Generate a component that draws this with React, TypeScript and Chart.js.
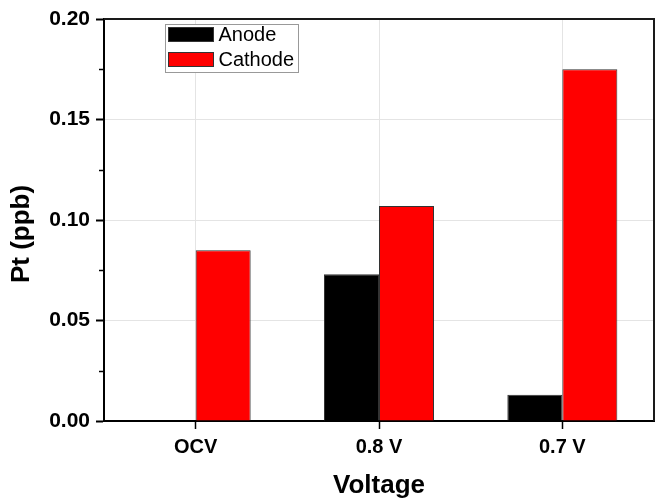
import React, { useEffect, useRef } from "react";
import { Chart, registerables } from "chart.js";

Chart.register(...registerables);

const categories = ["OCV", "0.8 V", "0.7 V"];
const anodeValues = [0, 0.073, 0.013];
const cathodeValues = [0.085, 0.107, 0.175];
const minorTickValues = [0.025, 0.075, 0.125, 0.175];
const seriesLabels = ["Anode", "Cathode"];
const seriesColors = ["#000000", "#ff0000"];
const xTitle = "Voltage";
const yTitle = "Pt (ppb)";

const FONT = "Arial, 'Liberation Sans', Helvetica, sans-serif";

const framePlugin = {
  id: "frameAndLegend",
  afterDraw(chart: any) {
    const { ctx, chartArea } = chart;
    const y = chart.scales.y;
    ctx.save();
    // minor ticks
    ctx.strokeStyle = "#000";
    ctx.lineWidth = 1.5;
    minorTickValues.forEach((v) => {
      const py = Math.round(y.getPixelForValue(v)) + 0.5;
      ctx.beginPath();
      ctx.moveTo(chartArea.left - 5, py);
      ctx.lineTo(chartArea.left, py);
      ctx.stroke();
    });
    // top and right frame
    ctx.lineWidth = 2;
    ctx.strokeStyle = "#1a1a1a";
    ctx.beginPath();
    ctx.moveTo(chartArea.left, chartArea.top);
    ctx.lineTo(chartArea.right, chartArea.top);
    ctx.lineTo(chartArea.right, chartArea.bottom);
    ctx.stroke();
    // y axis title
    ctx.save();
    ctx.translate(22, (chartArea.top + chartArea.bottom) / 2 + 14);
    ctx.rotate(-Math.PI / 2);
    ctx.fillStyle = "#000";
    ctx.font = `bold 26px ${FONT}`;
    ctx.textAlign = "center";
    ctx.textBaseline = "middle";
    ctx.fillText(yTitle, 0, 0);
    ctx.restore();
    // legend
    const lx = chartArea.left + 61.5;
    const ly = chartArea.top + 5.5;
    ctx.lineWidth = 1;
    ctx.strokeStyle = "#999";
    ctx.fillStyle = "#fff";
    ctx.fillRect(lx, ly, 133, 48);
    ctx.strokeRect(lx, ly, 133, 48);
    chart.data.datasets.forEach((ds: any, i: number) => {
      const sy = ly + 3 + i * 25;
      ctx.fillStyle = ds.backgroundColor;
      ctx.fillRect(lx + 3, sy, 45, 14);
      ctx.strokeStyle = "#333";
      ctx.strokeRect(lx + 3, sy, 45, 14);
      ctx.fillStyle = "#000";
      ctx.font = `20px ${FONT}`;
      ctx.textBaseline = "middle";
      ctx.textAlign = "left";
      ctx.fillText(ds.label, lx + 53, sy + 8);
    });
    ctx.restore();
  },
};

export default function App() {
  const ref = useRef<HTMLCanvasElement>(null);
  useEffect(() => {
    document.body.style.margin = "0";
    const chart = new Chart(ref.current as HTMLCanvasElement, {
      type: "bar",
      data: {
        labels: categories,
        datasets: [
          {
            label: seriesLabels[0],
            data: anodeValues,
            backgroundColor: seriesColors[0],
            borderColor: "#333",
            borderWidth: 1,
          },
          {
            label: seriesLabels[1],
            data: cathodeValues,
            backgroundColor: seriesColors[1],
            borderColor: "#333",
            borderWidth: 1,
          },
        ],
      },
      options: {
        responsive: false,
        animation: false,
        layout: { padding: { left: 0, top: 19, right: 11, bottom: 0 } },
        datasets: { bar: { categoryPercentage: 0.6, barPercentage: 1 } },
        plugins: {
          legend: { display: false },
          tooltip: { enabled: false },
        },
        scales: {
          x: {
            afterFit: (s: any) => {
              s.height = 80;
            },
            grid: {
              offset: false,
              color: "#e4e4e4",
              lineWidth: 1,
              tickColor: "#000",
              tickWidth: 1.5,
              tickLength: 8,
            },
            border: { display: true, color: "#000", width: 2 },
            ticks: {
              color: "#000",
              padding: 6,
              font: { family: FONT, size: 20, weight: "bold" },
            },
            title: {
              display: true,
              text: xTitle,
              color: "#000",
              padding: { top: 0, bottom: 0 },
              font: { family: FONT, size: 26, weight: "bold" },
            },
          },
          y: {
            min: 0,
            max: 0.2,
            afterFit: (s: any) => {
              s.width = 104;
            },
            grid: {
              color: "#e4e4e4",
              lineWidth: 1,
              tickColor: "#000",
              tickWidth: 2,
              tickLength: 8,
            },
            border: { display: true, color: "#000", width: 2 },
            ticks: {
              stepSize: 0.05,
              color: "#000",
              padding: 6,
              font: { family: FONT, size: 21, weight: "bold" },
              callback: (v: any) => Number(v).toFixed(2),
            },
            title: { display: false },
          },
        },
      },
      plugins: [framePlugin],
    } as any);
    return () => chart.destroy();
  }, []);
  return (
    <div style={{ position: "absolute", left: 0, top: 0, width: 665, height: 501, background: "#fff" }}>
      <canvas ref={ref} width={665} height={501} />
    </div>
  );
}
